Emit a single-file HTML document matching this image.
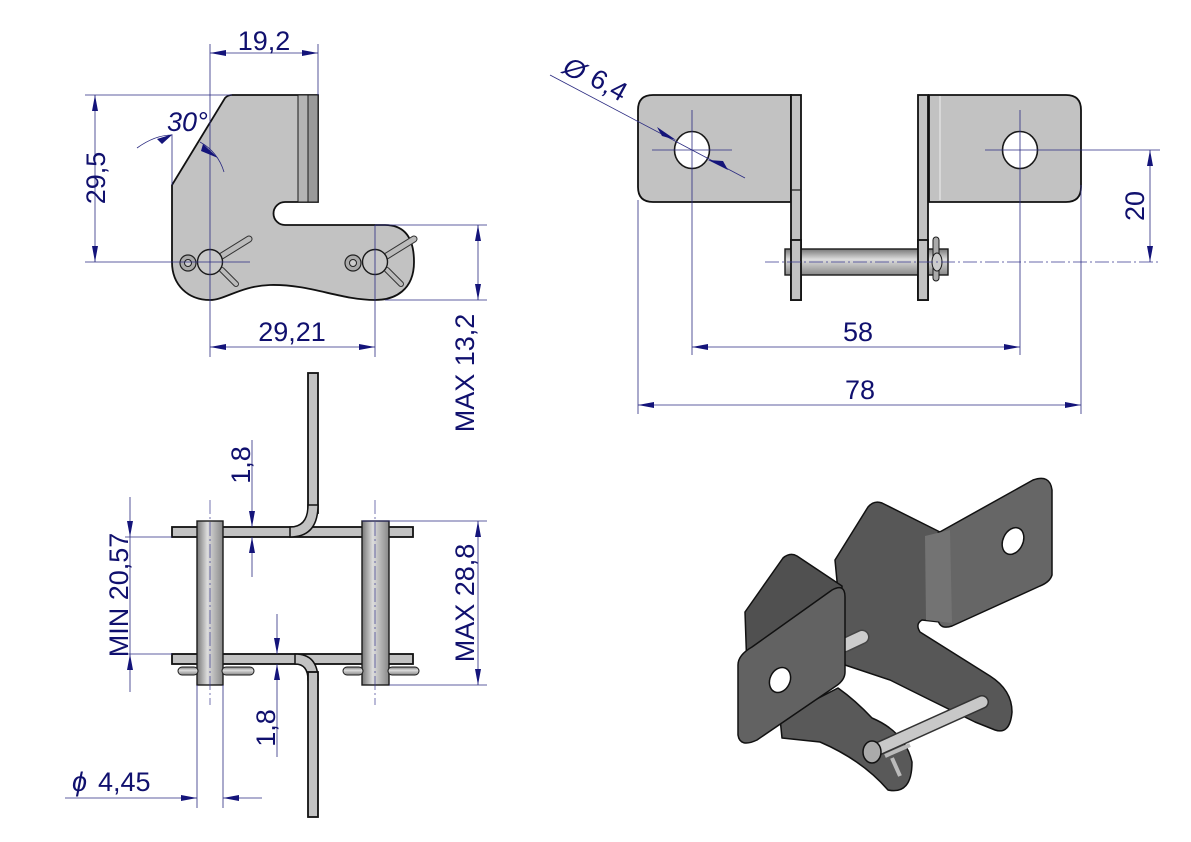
<!DOCTYPE html>
<html><head><meta charset="utf-8">
<style>
html,body{margin:0;padding:0;background:#fff;}
svg{display:block;}
text{font-family:"Liberation Sans",Arial,sans-serif;fill:#10106e;font-size:27px;}
.d{stroke:#2a2a80;stroke-width:0.8;fill:none;}
.c{stroke:#3a3a90;stroke-width:0.7;fill:none;stroke-dasharray:14 3 2 3;}
.p{fill:#c2c2c2;stroke:#111;stroke-width:1.8;}
.k{stroke:#1a1a1a;stroke-width:1.2;}
</style></head><body>
<svg width="1191" height="842" viewBox="0 0 1191 842" xmlns="http://www.w3.org/2000/svg">
<defs>
<marker id="a" viewBox="0 0 16 6" refX="16" refY="3" markerWidth="16" markerHeight="6" markerUnits="userSpaceOnUse" orient="auto-start-reverse"><path d="M0,0 L16,3 L0,6 z" fill="#14147a"/></marker>
<linearGradient id="pin" x1="0" y1="0" x2="1" y2="0"><stop offset="0" stop-color="#777"/><stop offset="0.4" stop-color="#ddd"/><stop offset="1" stop-color="#888"/></linearGradient>
<linearGradient id="pinh" x1="0" y1="0" x2="0" y2="1"><stop offset="0" stop-color="#777"/><stop offset="0.4" stop-color="#ddd"/><stop offset="1" stop-color="#888"/></linearGradient>
</defs>

<path class="p" d="M232,95 L318,95 L318,202 L285,202 A11.5,11.5 0 0 0 285,225 L385,225 C405,225 414,238 414,262 C414,290 395,300 375,300 C340,300 310,284 270,285 C240,286 225,300 210,300 C188,300 172,285 172,262 L172,185 L225,98 Q228,95 232,95 Z"/>
<rect x="298" y="95" width="20" height="107" fill="#b4b4b4" stroke="#1a1a1a" stroke-width="1"/>
<rect x="308" y="95" width="10" height="107" fill="#9a9a9a" stroke="#1a1a1a" stroke-width="1"/>
<g>
<line x1="222" y1="270" x2="236" y2="284" stroke="#333" stroke-width="6" stroke-linecap="round"/><line x1="222" y1="270" x2="236" y2="284" stroke="#bbb" stroke-width="4" stroke-linecap="round"/>
<line x1="220" y1="257" x2="249" y2="239" stroke="#333" stroke-width="7" stroke-linecap="round"/><line x1="220" y1="257" x2="249" y2="239" stroke="#bbb" stroke-width="5" stroke-linecap="round"/>
<circle cx="188" cy="263" r="8" fill="#aaa" stroke="#222" stroke-width="1.2"/><circle cx="188" cy="263" r="3.5" fill="#ccc" stroke="#222"/>
<circle cx="210" cy="262" r="12.5" fill="#c8c8c8" stroke="#1a1a1a" stroke-width="1.4"/>
<line x1="387" y1="270" x2="401" y2="284" stroke="#333" stroke-width="6" stroke-linecap="round"/><line x1="387" y1="270" x2="401" y2="284" stroke="#bbb" stroke-width="4" stroke-linecap="round"/>
<line x1="385" y1="257" x2="414" y2="239" stroke="#333" stroke-width="7" stroke-linecap="round"/><line x1="385" y1="257" x2="414" y2="239" stroke="#bbb" stroke-width="5" stroke-linecap="round"/>
<circle cx="353" cy="263" r="8" fill="#aaa" stroke="#222" stroke-width="1.2"/><circle cx="353" cy="263" r="3.5" fill="#ccc" stroke="#222"/>
<circle cx="375" cy="262" r="12.5" fill="#c8c8c8" stroke="#1a1a1a" stroke-width="1.4"/>
</g>
<line class="d" x1="210" y1="44" x2="210" y2="357"/>
<line class="d" x1="318" y1="44" x2="318" y2="95"/>
<line class="d" x1="210" y1="53" x2="318" y2="53" marker-start="url(#a)" marker-end="url(#a)"/>
<text x="264" y="50" text-anchor="middle">19,2</text>
<line class="d" x1="85" y1="95" x2="232" y2="95"/>
<line class="d" x1="85" y1="262" x2="250" y2="262"/>
<line class="d" x1="95" y1="95" x2="95" y2="262" marker-start="url(#a)" marker-end="url(#a)"/>
<text transform="translate(105,178) rotate(-90)" text-anchor="middle">29,5</text>
<path class="d" d="M137,148 Q155,135 172,135"/>
<line class="d" x1="172" y1="135" x2="172" y2="185"/>
<path class="d" d="M200,142 Q218,152 224,172"/>
<path d="M157,139 L173,134 L162,144 z" fill="#14147a"/>
<path d="M203,144 L218,158 L201,151 z" fill="#14147a"/>
<text x="167" y="131" font-style="italic">30°</text>
<line class="d" x1="375" y1="225" x2="375" y2="357"/>
<line class="d" x1="210" y1="347" x2="375" y2="347" marker-start="url(#a)" marker-end="url(#a)"/>
<text x="292" y="341" text-anchor="middle">29,21</text>
<line class="d" x1="375" y1="225" x2="487" y2="225"/>
<line class="d" x1="385" y1="300" x2="487" y2="300"/>
<line class="d" x1="478" y1="225" x2="478" y2="300" marker-start="url(#a)" marker-end="url(#a)"/>
<text transform="translate(474,373) rotate(-90)" text-anchor="middle">MAX  13,2</text>

<rect x="308" y="373" width="10" height="140" class="p"/>
<rect x="172" y="527" width="241" height="10" class="p"/>
<path d="M290,527 Q308,527 308,505 L318,505 Q318,537 290,537 Z" fill="#c2c2c2" stroke="#111" stroke-width="1.5"/>
<rect x="172" y="654" width="241" height="10" class="p"/>
<path d="M295,654 Q318,654 318,680 L308,680 Q308,664 295,664 Z" fill="#c2c2c2" stroke="#111" stroke-width="1.5"/>
<rect x="308" y="672" width="10" height="145" class="p"/>
<rect x="197" y="521" width="26" height="164" fill="url(#pin)" stroke="#1a1a1a" stroke-width="1.4"/>
<rect x="362" y="521" width="27" height="164" fill="url(#pin)" stroke="#1a1a1a" stroke-width="1.4"/>
<rect x="178" y="667" width="20" height="8" rx="4" fill="url(#pinh)" stroke="#1a1a1a"/>
<rect x="222" y="667" width="32" height="8" rx="4" fill="url(#pinh)" stroke="#1a1a1a"/>
<rect x="343" y="667" width="20" height="8" rx="4" fill="url(#pinh)" stroke="#1a1a1a"/>
<rect x="388" y="667" width="31" height="8" rx="4" fill="url(#pinh)" stroke="#1a1a1a"/>
<line class="c" x1="210" y1="500" x2="210" y2="705"/>
<line class="c" x1="375" y1="500" x2="375" y2="705"/>
<line class="d" x1="125" y1="537" x2="172" y2="537"/>
<line class="d" x1="125" y1="654" x2="172" y2="654"/>
<line class="d" x1="130" y1="497" x2="130" y2="537" marker-end="url(#a)"/>
<line class="d" x1="130" y1="692" x2="130" y2="654" marker-end="url(#a)"/>
<line class="d" x1="130" y1="537" x2="130" y2="654"/>
<text transform="translate(128,595) rotate(-90)" text-anchor="middle">MIN  20,57</text>
<line class="d" x1="362" y1="521" x2="487" y2="521"/>
<line class="d" x1="389" y1="685" x2="487" y2="685"/>
<line class="d" x1="478" y1="521" x2="478" y2="685" marker-start="url(#a)" marker-end="url(#a)"/>
<text transform="translate(474,603) rotate(-90)" text-anchor="middle">MAX  28,8</text>
<line class="d" x1="252" y1="440" x2="252" y2="527" marker-end="url(#a)"/>
<line class="d" x1="252" y1="577" x2="252" y2="537" marker-end="url(#a)"/>
<text transform="translate(250,465) rotate(-90)" text-anchor="middle">1,8</text>
<line class="d" x1="277" y1="614" x2="277" y2="654" marker-end="url(#a)"/>
<line class="d" x1="277" y1="757" x2="277" y2="664" marker-end="url(#a)"/>
<text transform="translate(275,728) rotate(-90)" text-anchor="middle">1,8</text>
<line class="d" x1="197" y1="685" x2="197" y2="808"/>
<line class="d" x1="223" y1="685" x2="223" y2="808"/>
<line class="d" x1="65" y1="798" x2="197" y2="798" marker-end="url(#a)"/>
<line class="d" x1="262" y1="798" x2="223" y2="798" marker-end="url(#a)"/>
<text x="72" y="791" font-style="italic">ϕ</text>
<text x="98" y="791">4,45</text>

<path class="p" d="M653,95 L791,95 L791,202 L653,202 Q638,202 638,187 L638,110 Q638,95 653,95 Z"/>
<rect x="791" y="95" width="10" height="205" class="p"/>
<line class="k" x1="791" y1="190" x2="801" y2="190" stroke-width="0.6"/>
<path class="p" d="M929,95 L1066,95 Q1081,95 1081,110 L1081,187 Q1081,202 1066,202 L929,202 Z"/>
<rect x="918" y="95" width="10" height="205" class="p"/>
<line x1="940" y1="96" x2="940" y2="200" stroke="#eee" stroke-width="1"/>
<ellipse cx="692" cy="150" rx="17.5" ry="18.5" fill="#fff" stroke="#1a1a1a" stroke-width="1.6"/>
<ellipse cx="1020" cy="150" rx="17.5" ry="18.5" fill="#fff" stroke="#1a1a1a" stroke-width="1.6"/>
<rect x="785" y="249" width="163" height="26" fill="url(#pinh)" stroke="#1a1a1a" stroke-width="1.4"/>
<rect x="791" y="240" width="10" height="60" class="p"/>
<rect x="918" y="240" width="10" height="60" class="p"/>
<rect x="933" y="237" width="6" height="44" rx="3" fill="#aaa" stroke="#1a1a1a"/>
<ellipse cx="937" cy="262" rx="5" ry="9" fill="#ccc" stroke="#1a1a1a"/>
<line class="c" x1="765" y1="262" x2="1160" y2="262"/>
<line class="d" x1="652" y1="150" x2="732" y2="150"/>
<line class="d" x1="692" y1="110" x2="692" y2="355"/>
<line class="d" x1="985" y1="150" x2="1160" y2="150"/>
<line class="d" x1="1020" y1="110" x2="1020" y2="355"/>
<line class="d" x1="550" y1="75" x2="745" y2="178"/>
<path d="M657,127 L676,140 L662,136 z" fill="#14147a"/>
<path d="M728,170 L708,160 L723,161 z" fill="#14147a"/>
<text transform="translate(561,72) rotate(29)" font-style="italic">Ø</text>
<text transform="translate(588,84) rotate(29)">6,4</text>
<line class="d" x1="1150" y1="150" x2="1150" y2="262" marker-start="url(#a)" marker-end="url(#a)"/>
<text transform="translate(1144,206) rotate(-90)" text-anchor="middle">20</text>
<line class="d" x1="692" y1="347" x2="1020" y2="347" marker-start="url(#a)" marker-end="url(#a)"/>
<text x="858" y="341" text-anchor="middle">58</text>
<line class="d" x1="638" y1="200" x2="638" y2="414"/>
<line class="d" x1="1081" y1="185" x2="1081" y2="414"/>
<line class="d" x1="638" y1="405" x2="1081" y2="405" marker-start="url(#a)" marker-end="url(#a)"/>
<text x="860" y="399" text-anchor="middle">78</text>

<g stroke="#111" stroke-width="1.5" stroke-linejoin="round">
<path fill="#575757" d="M868,507 Q874,500 882,503 L940,532 L940,622 L922,620 Q915,624 920,632 L990,676 Q1012,690 1012,712 Q1010,735 995,730 L975,722 Q930,700 890,680 L845,665 L835,560 Z"/>
<path fill="#666" d="M938,533 L1033,480 Q1050,474 1052,490 L1052,575 Q1050,582 1040,586 L952,626 Q940,630 938,620 Z"/>
<path fill="#737373" stroke="none" d="M925,536 L950,530 L952,623 L926,620 Z"/>
<ellipse cx="1013" cy="541" rx="10" ry="14" transform="rotate(25 1013 541)" fill="#fff"/>
<line x1="845" y1="645" x2="862" y2="637" stroke="#444" stroke-width="15" stroke-linecap="round"/>
<line x1="845" y1="645" x2="862" y2="637" stroke="#ccc" stroke-width="12" stroke-linecap="round"/>
<path fill="#505050" d="M745,612 L783,558 Q790,552 797,556 L842,586 L842,680 L748,700 Z"/>
<path fill="#595959" d="M780,718 L838,688 Q855,700 872,718 Q905,732 912,762 Q912,795 888,790 Q862,760 820,742 L782,738 Z"/>
<path fill="#626262" d="M752,647 L832,590 Q845,583 845,597 L845,672 Q845,680 836,686 L757,740 Q740,748 738,735 L738,665 Q738,655 752,647 Z"/>
<ellipse cx="780" cy="680" rx="10" ry="13" transform="rotate(25 780 680)" fill="#fff"/>
<line x1="880" y1="748" x2="982" y2="702" stroke="#333" stroke-width="14" stroke-linecap="round"/>
<line x1="880" y1="748" x2="982" y2="702" stroke="#c8c8c8" stroke-width="11" stroke-linecap="round"/>
<ellipse cx="872" cy="752" rx="9" ry="11" fill="#aaa"/>
<line x1="885" y1="756" x2="910" y2="745" stroke="#bbb" stroke-width="4"/>
<line x1="892" y1="758" x2="900" y2="776" stroke="#bbb" stroke-width="4"/>
</g>
</svg>
</body></html>
